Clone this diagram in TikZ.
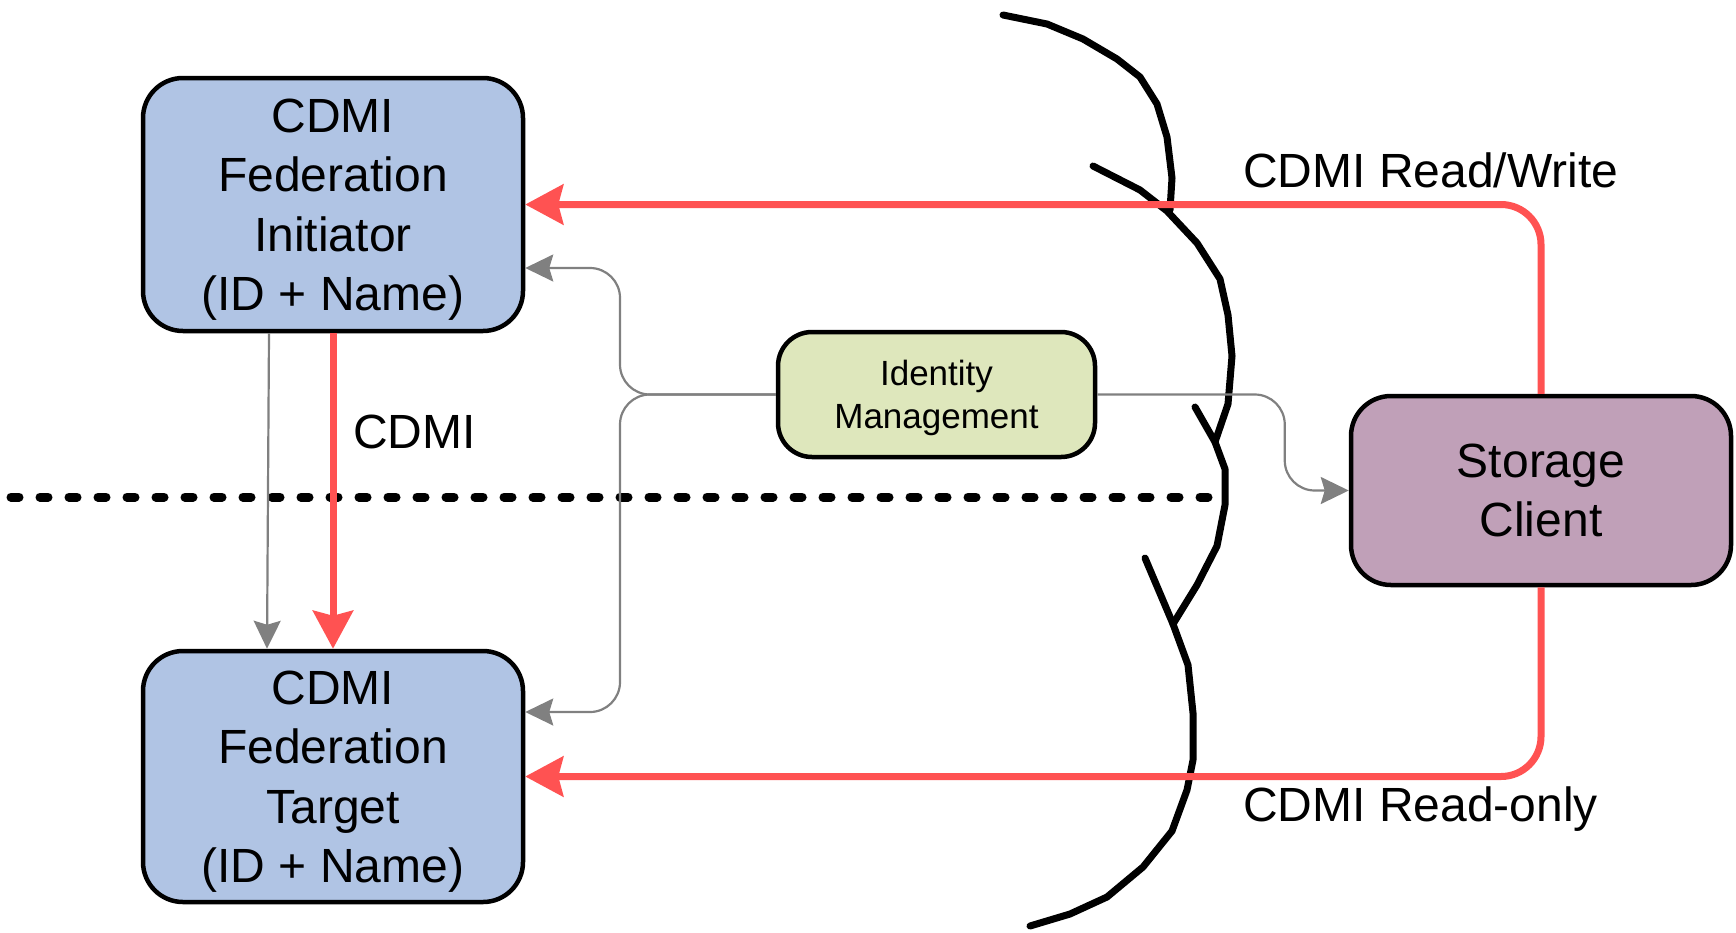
\documentclass[tikz,border=0pt]{standalone}
\usepackage{fontspec}
\setmainfont{Liberation Sans}
\usetikzlibrary{arrows.meta,calc}

\definecolor{fedblue}{RGB}{176,196,228}
\definecolor{idgreen}{RGB}{222,231,188}
\definecolor{clientmauve}{RGB}{192,160,184}
\definecolor{linkred}{RGB}{255,82,82}
\definecolor{linkgray}{RGB}{128,128,128}

% strut that pushes the first text line of a box a little lower
\newcommand{\toppad}[1]{\rule{0pt}{#1}}

\tikzset{
  box/.style={draw=black, line width=4.5pt, rounded corners=40pt, inner sep=0pt,
    align=center, font=\fontsize{48}{59.3}\selectfont},
  fedbox/.style={box, fill=fedblue, minimum width=380pt, minimum height=253pt},
  clientbox/.style={box, fill=clientmauve, minimum width=380pt, minimum height=189pt},
  idbox/.style={box, fill=idgreen, rounded corners=34pt, minimum width=317pt,
    minimum height=125pt, font=\fontsize{35}{43}\selectfont},
  label/.style={anchor=base west, inner sep=0pt, font=\fontsize{48}{58}\selectfont},
  redlink/.style={draw=linkred, line width=7pt,
    -{Stealth[length=38pt, width=40pt, inset=5pt]}},
  graylink/.style={draw=linkgray, line width=2.2pt,
    -{Stealth[length=28pt, width=27pt, inset=4pt]}},
  boundary/.style={line width=7pt, line cap=round, line join=round},
  divider/.style={line width=9pt, line cap=round, dash pattern=on 8pt off 21pt}
}

\begin{document}
\begin{tikzpicture}[x=1pt, y=-1pt]
\useasboundingbox (0,0) rectangle (1736,932);

% components
\node[fedbox] (init) at (333,204.5) {\toppad{44pt}CDMI\\Federation\\Initiator\\(ID + Name)};
\node[fedbox, minimum height=251pt] (target) at (333,776.5) {\toppad{44pt}CDMI\\Federation\\Target\\(ID + Name)};
\node[idbox] (idm) at (936.5,394.5) {\toppad{33pt}Identity\\Management};
\node[clientbox] (client) at (1541,490.5) {Storage\\Client};

% domain divider
\coordinate (divL) at (11,497);
\coordinate (divR) at (1223,497);
\draw[divider] (divL) -- (divR);

% boundary of the cloud, drawn as overlapping strokes
\draw[boundary] (1003,15) -- (1047,24) -- (1083,39) -- (1117,59) -- (1140,77)
  -- (1157,104) -- (1167,137) -- (1172,178) -- (1170,210);
\draw[boundary] (1093,166) -- (1140,190) -- (1167,211) -- (1197,243) -- (1220,279)
  -- (1228,315) -- (1232,356) -- (1228,404) -- (1215,442);
\draw[boundary] (1195,407) -- (1215,442) -- (1225,469) -- (1225,505) -- (1217,546)
  -- (1197,585) -- (1173,624);
\draw[boundary] (1145,558) -- (1173,624) -- (1188,665) -- (1193,713) -- (1193,760)
  -- (1187,790) -- (1172,831) -- (1143,867) -- (1107,897) -- (1070,914) -- (1030,926);

% identity management links
\draw[graylink, rounded corners=30pt] (idm.west) -- (idm.west -| 620,0) |- (init.east |- 0,268);
\draw[graylink, rounded corners=30pt] (idm.west) -- (idm.west -| 620,0) |- (target.east |- 0,712);
\draw[graylink, rounded corners=30pt] (idm.east) -| ($(client.west)+(-64,0)$) -- (client.west);
\draw[graylink] (init.south -| 269,0) -- (target.north -| 267,0);

% CDMI data paths
\draw[redlink] (init.south) -- (target.north);
\draw[redlink, rounded corners=40pt] (client.north) |- (init.east);
\draw[redlink, rounded corners=40pt] (client.south) |- (target.east);

% labels
\node[label] (lcdmi) at (353,448) {CDMI};
\node[label] (lrw) at (1243,187) {CDMI Read/Write};
\node[label] (lro) at (1243,821) {CDMI Read-only};
\end{tikzpicture}
\end{document}
